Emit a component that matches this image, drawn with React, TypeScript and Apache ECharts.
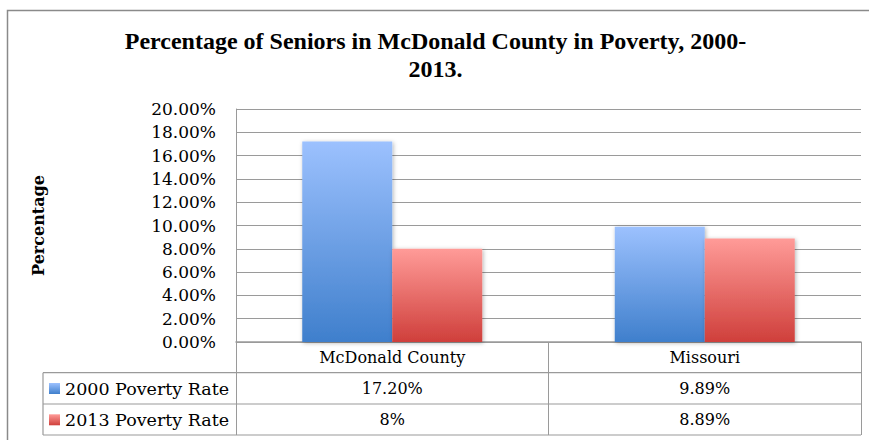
import React, { useEffect, useRef } from "react";
import * as echarts from "echarts";

const categories = ["McDonald County", "Missouri"];
const seriesNames = ["2000 Poverty Rate", "2013 Poverty Rate"];
const rate2000 = [17.2, 9.89];
const rate2013 = [8, 8.89];
const rate2000Labels = ["17.20%", "9.89%"];
const rate2013Labels = ["8%", "8.89%"];
const yTicks = { min: 0, max: 20, interval: 2 };

const W = 869;
const H = 440;
const GRID_LEFT = 236;
const GRID_RIGHT = 861;
const GRID_TOP = 109;
const GRID_BOTTOM = 342;
const ROW1 = 372.7;
const ROW2 = 404;
const ROW3 = 435;
const TABLE_LEFT = 43;
const LINE = "#9a9a9a";
const SERIF = "DejaVu Serif";

const blueGrad = new echarts.graphic.LinearGradient(0, 0, 0, 1, [
  { offset: 0, color: "#9cc1fe" },
  { offset: 1, color: "#3f7fcc" },
]);
const redGrad = new echarts.graphic.LinearGradient(0, 0, 0, 1, [
  { offset: 0, color: "#ff9b98" },
  { offset: 1, color: "#cf3f3b" },
]);

export default function App() {
  const ref = useRef<HTMLDivElement>(null);
  useEffect(() => {
    if (!ref.current) return;
    const chart = echarts.init(ref.current, null, { renderer: "svg" });
    const shadow = {
      shadowColor: "rgba(0,0,0,0.3)",
      shadowBlur: 4,
      shadowOffsetX: 1,
      shadowOffsetY: 1,
    };
    chart.setOption({
      animation: false,
      backgroundColor: "#ffffff",
      title: {
        text: "Percentage of Seniors in McDonald County in Poverty, 2000-\n2013.",
        left: W / 2 - 4,
        top: 22,
        textAlign: "center",
        textStyle: {
          fontFamily: "Liberation Serif",
          fontWeight: "bold",
          fontSize: 24,
          lineHeight: 28,
          color: "#000",
        },
      },
      legend: {
        orient: "vertical",
        left: 49,
        top: 378.5,
        padding: 0,
        itemWidth: 11,
        itemHeight: 11,
        itemGap: 11.3,
        icon: "rect",
        data: seriesNames,
        textStyle: { fontFamily: SERIF, fontSize: 17.5, lineHeight: 20, color: "#000" },
      },
      grid: {
        left: GRID_LEFT,
        right: W - GRID_RIGHT,
        top: GRID_TOP,
        bottom: H - GRID_BOTTOM,
        containLabel: false,
      },
      xAxis: {
        type: "category",
        data: categories,
        axisLine: { lineStyle: { color: LINE, width: 1.5 } },
        axisTick: { show: true, length: ROW3 - GRID_BOTTOM, lineStyle: { color: LINE } },
        axisLabel: {
          fontFamily: SERIF,
          fontSize: 16,
          color: "#000",
          margin: 5,
          lineHeight: 20,
        },
      },
      yAxis: {
        type: "value",
        min: yTicks.min,
        max: yTicks.max,
        interval: yTicks.interval,
        name: "Percentage",
        nameLocation: "middle",
        nameRotate: 90,
        nameGap: 190,
        nameTextStyle: { fontFamily: SERIF, fontWeight: "bold", fontSize: 16, color: "#000" },
        axisLine: { show: true, lineStyle: { color: LINE } },
        axisTick: { show: false },
        axisLabel: {
          fontFamily: SERIF,
          fontSize: 17,
          color: "#000",
          margin: 20,
          formatter: (v: number) => v.toFixed(2) + "%",
        },
        splitLine: { lineStyle: { color: LINE, width: 1.2 } },
      },
      series: [
        {
          name: seriesNames[0],
          type: "bar",
          data: rate2000,
          barWidth: "28.8%",
          barGap: "0%",
          itemStyle: { color: blueGrad, ...shadow },
        },
        {
          name: seriesNames[1],
          type: "bar",
          data: rate2013,
          barWidth: "28.8%",
          barGap: "0%",
          itemStyle: { color: redGrad, ...shadow },
        },
      ],
    });

    const centers = categories.map((c) => chart.convertToPixel({ xAxisIndex: 0 }, c) as number);
    const row1Y = (ROW1 + ROW2) / 2;
    const row2Y = (ROW2 + ROW3) / 2;
    const hLine = (y: number) => ({
      type: "line",
      shape: { x1: TABLE_LEFT, y1: y, x2: GRID_RIGHT, y2: y },
      style: { stroke: LINE, lineWidth: 1.2 },
      silent: true,
    });
    const cellText = (x: number, y: number, t: string) => ({
      type: "text",
      x,
      y,
      style: {
        text: t,
        fontFamily: SERIF,
        fontSize: 16,
        fill: "#000",
        align: "center",
        verticalAlign: "middle",
      },
      silent: true,
    });
    chart.setOption({
      graphic: [
        {
          type: "rect",
          shape: { x: 7.5, y: 10.5, width: 900, height: 500 },
          style: { fill: "none", stroke: "#8a8a8a", lineWidth: 1.5 },
          silent: true,
        },
        hLine(ROW1),
        hLine(ROW2),
        hLine(ROW3),
        {
          type: "line",
          shape: { x1: TABLE_LEFT, y1: ROW1, x2: TABLE_LEFT, y2: ROW3 },
          style: { stroke: LINE, lineWidth: 1.2 },
          silent: true,
        },
        ...rate2000Labels.map((t, i) => cellText(centers[i], row1Y, t)),
        ...rate2013Labels.map((t, i) => cellText(centers[i], row2Y, t)),
      ],
    });
    return () => chart.dispose();
  }, []);
  return (
    <div
      ref={ref}
      style={{ position: "fixed", left: 0, top: 0, width: W, height: H, background: "#fff" }}
    />
  );
}
